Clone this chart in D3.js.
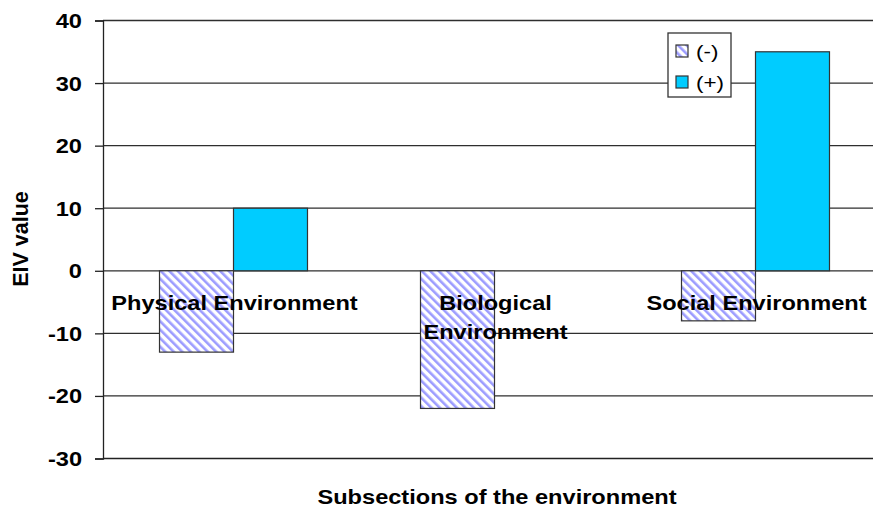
<!DOCTYPE html>
<html>
<head>
<meta charset="utf-8">
<script src="https://cdn.jsdelivr.net/npm/d3@7"></script>
<style>
  body { margin: 0; background: #fff; }
  svg { display: block; font-family: Arial, "Liberation Sans", sans-serif; }
</style>
</head>
<body>
<svg id="chart" width="873" height="509"></svg>
<script>
const categories = ["Physical Environment", "Biological Environment", "Social Environment"];
const series = ["(-)", "(+)"];
const minusValues = [-13, -22, -8];
const plusValues = [10, 0, 35];
const yTicks = [-30, -20, -10, 0, 10, 20, 30, 40];

const svg = d3.select("#chart");
const STRETCH = 1.18; // text in the picture is drawn a bit wide

const rows = categories.map(function(c, i) {
    return { cat: c, values: [
        { key: "(-)", value: minusValues[i] },
        { key: "(+)", value: plusValues[i] }
    ]};
});

const plotLeft = 103, plotRight = 886, plotTop = 20.5, plotBottom = 458.5;

const x0 = d3.scaleBand().domain(categories).range([plotLeft, plotRight]).paddingInner(0.433).paddingOuter(0.2165);
const x1 = d3.scaleBand().domain(series).range([0, x0.bandwidth()]);
const y = d3.scaleLinear().domain([-30, 40]).range([plotBottom, plotTop]);

// hatch pattern for the negative series
const defs = svg.append("defs");
const pat = defs.append("pattern")
    .attr("id", "hatch")
    .attr("patternUnits", "userSpaceOnUse")
    .attr("width", 6).attr("height", 6)
    .attr("patternTransform", "rotate(-45)");
pat.append("rect").attr("width", 6).attr("height", 6).attr("fill", "#fff");
pat.append("rect").attr("width", 2.6).attr("height", 6).attr("fill", "#9c9cff");

const fills = { "(-)": "url(#hatch)", "(+)": "#00ccff" };

// gridlines
svg.append("g")
    .selectAll("line")
    .data(yTicks.filter(function(t) { return t > -30; }))
    .join("line")
    .attr("x1", plotLeft).attr("x2", 873)
    .attr("y1", function(d) { return y(d); })
    .attr("y2", function(d) { return y(d); })
    .style("stroke", "#2e2e2e")
    .style("stroke-width", 1.3);

// bars
svg.append("g")
    .selectAll("g")
    .data(rows)
    .join("g")
    .attr("transform", function(d) { return "translate(" + x0(d.cat) + ",0)"; })
    .selectAll("rect")
    .data(function(d) { return d.values.filter(function(v) { return v.value !== 0; }); })
    .join("rect")
    .attr("x", function(d) { return x1(d.key); })
    .attr("width", x1.bandwidth())
    .attr("y", function(d) { return y(Math.max(0, d.value)); })
    .attr("height", function(d) { return Math.abs(y(d.value) - y(0)); })
    .style("fill", function(d) { return fills[d.key]; })
    .style("stroke", "#333")
    .style("stroke-width", 1.2);

// y axis
const yAxis = svg.append("g")
    .attr("transform", "translate(" + plotLeft + ",0)")
    .call(d3.axisLeft(y).tickValues(yTicks).tickSize(8).tickPadding(0).tickFormat(function(d) { return String(d); }));
yAxis.selectAll("path, line").style("stroke", "#222").style("stroke-width", 1.3);
yAxis.selectAll("text")
    .attr("x", null).attr("dy", null)
    .attr("transform", "translate(-21,7) scale(" + STRETCH + ",1)")
    .style("font-size", "20px").style("font-weight", "bold").style("fill", "#000")
    .style("font-family", "Arial, 'Liberation Sans', sans-serif");

// x axis line at -30
svg.append("line")
    .attr("x1", plotLeft).attr("x2", 873)
    .attr("y1", y(-30)).attr("y2", y(-30))
    .style("stroke", "#222").style("stroke-width", 1.3);

// category labels
const labelLines = {
    "Physical Environment": ["Physical Environment"],
    "Biological Environment": ["Biological", "Environment"],
    "Social Environment": ["Social Environment"]
};
svg.append("g")
    .selectAll("text")
    .data(categories)
    .join("text")
    .attr("transform", function(d) { return "translate(" + (x0(d) + x0.bandwidth() / 2 + 1) + ",310) scale(" + STRETCH + ",1)"; })
    .attr("text-anchor", "middle")
    .style("font-size", "20px").style("font-weight", "bold").style("fill", "#000")
    .selectAll("tspan")
    .data(function(d) { return labelLines[d]; })
    .join("tspan")
    .attr("x", 0)
    .attr("y", function(d, i) { return i * 29; })
    .text(function(d) { return d; });

// axis titles
svg.append("text")
    .attr("transform", "translate(28,239) rotate(-90)")
    .attr("text-anchor", "middle")
    .style("font-size", "21.5px").style("font-weight", "bold")
    .text("EIV value");

svg.append("text")
    .attr("transform", "translate(497,504) scale(" + STRETCH + ",1)")
    .attr("text-anchor", "middle")
    .style("font-size", "20px").style("font-weight", "bold")
    .text("Subsections of the environment");

// legend
const legend = svg.append("g").attr("transform", "translate(668,33)");
legend.append("rect")
    .attr("width", 63).attr("height", 64)
    .style("fill", "#fff").style("stroke", "#333").style("stroke-width", 1.3);
const item = legend.selectAll("g.item")
    .data(series)
    .join("g")
    .attr("class", "item")
    .attr("transform", function(d, i) { return "translate(8," + (12 + i * 31) + ")"; });
item.append("rect")
    .attr("width", 12).attr("height", 12)
    .style("fill", function(d) { return fills[d]; })
    .style("stroke", "#333").style("stroke-width", 1.2);
item.append("text")
    .attr("transform", "translate(20,13) scale(" + STRETCH + ",1)")
    .style("font-size", "19px")
    .text(function(d) { return d; });
</script>
</body>
</html>
